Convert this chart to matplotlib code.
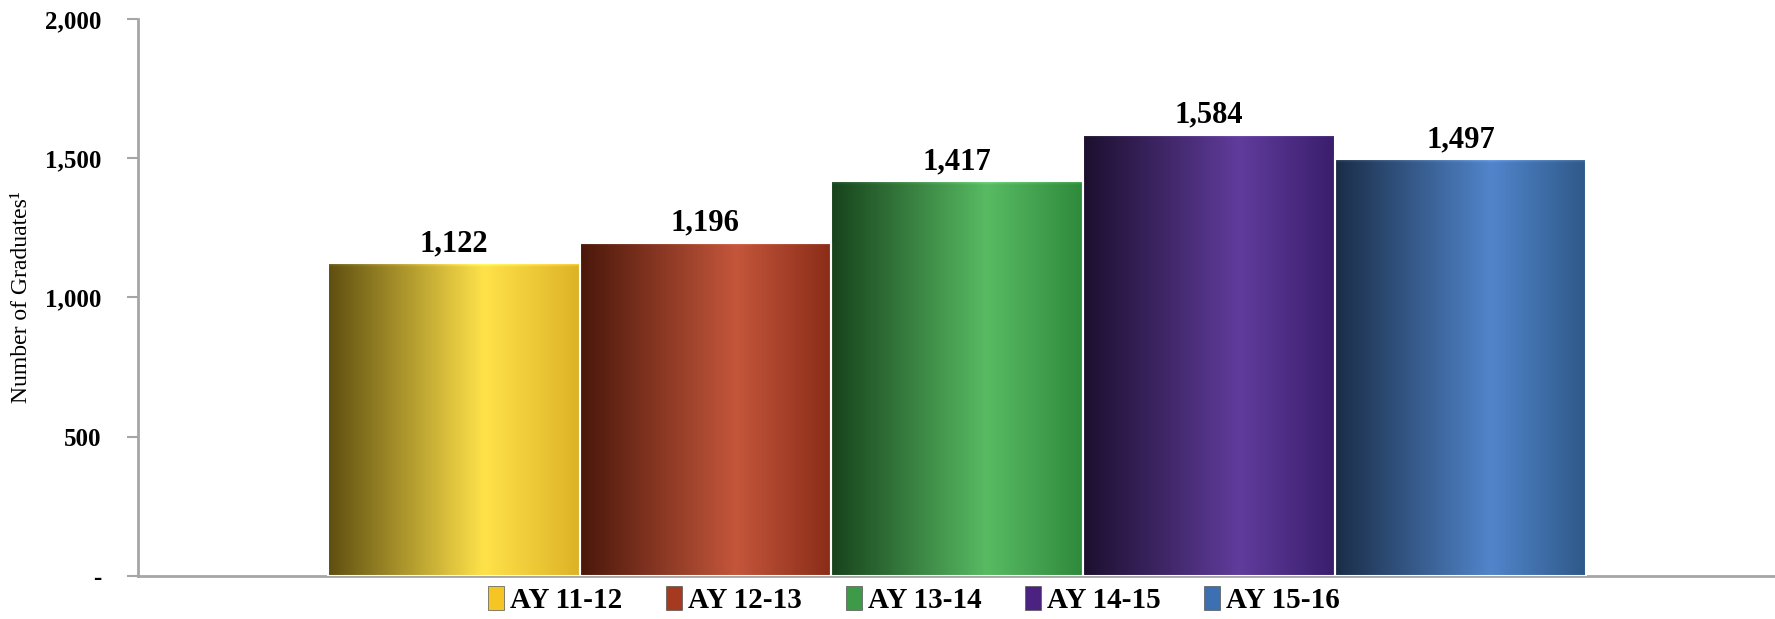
import numpy as np
import matplotlib
matplotlib.use("Agg")
import matplotlib.pyplot as plt
from matplotlib.patches import Patch
from matplotlib.colors import LinearSegmentedColormap
from matplotlib.ticker import FuncFormatter

categories = ["AY 11-12", "AY 12-13", "AY 13-14", "AY 14-15", "AY 15-16"]
values = [1122, 1196, 1417, 1584, 1497]
legend_colors = ["#f5c524", "#a63a20", "#3d9a48", "#4b2282", "#3d70b3"]
# gradient stops (left, mid-light, right) per bar
grad_stops = [
    ("#5e4e10", "#ffe24a", "#ddb226"),
    ("#4a170a", "#c4563b", "#8a2c18"),
    ("#17421c", "#58bb63", "#2f8a3c"),
    ("#1c0f2e", "#603c9c", "#3a1e6c"),
    ("#1a2d47", "#5185cb", "#2e5888"),
]
yticks = [0, 500, 1000, 1500, 2000]

plt.rcParams["font.family"] = ["Liberation Serif", "DejaVu Serif"]

fig = plt.figure(figsize=(17.75, 6.19), dpi=100)
ax = fig.add_axes([0.0777, 0.0695, 0.9223, 0.9])

x = np.arange(len(values))
bars = ax.bar(x, values, width=1.0, color="none", edgecolor="none", zorder=2)

for b, stops in zip(bars, grad_stops):
    cmap = LinearSegmentedColormap.from_list("g", [(0, stops[0]), (0.62, stops[1]), (1.0, stops[2])])
    h = b.get_height()
    rows = int(h)
    img = cmap(np.linspace(0, 1, 256))[None, :, :3]
    img = np.repeat(img, rows, axis=0)
    # subtle light top bevel
    bevel = 14
    ramp = np.linspace(0, 1, bevel)[:, None, None]
    img[-bevel:] = np.clip(img[-bevel:] * (1 + 0.12 * ramp) + 0.06 * ramp, 0, 1)
    x0, w = b.get_x(), b.get_width()
    im = ax.imshow(img, extent=[x0, x0 + w, 0, h], aspect="auto", origin="lower",
                   interpolation="bilinear", zorder=2)
    im.set_clip_path(b)
    ax.text(x0 + w / 2, h + 18, f"{int(h):,}", ha="center", va="bottom",
            fontsize=22, fontweight="bold", zorder=4)

ax.bar(x, values, width=1.0, color="none", edgecolor="white", linewidth=1.5, zorder=3)

ax.set_xlim(-1.255, 5.25)
ax.set_ylim(0, 2000)
ax.set_yticks(yticks)
ax.yaxis.set_major_formatter(FuncFormatter(lambda v, p: "-" if v == 0 else f"{int(v):,}"))
for lbl in ax.get_yticklabels():
    lbl.set_fontweight("bold")
ax.tick_params(axis="y", labelsize=18, length=8, width=1.5, color="#a6a6a6", pad=18)
ax.set_xticks([])
for s in ["top", "right"]:
    ax.spines[s].set_visible(False)
for s in ["left", "bottom"]:
    ax.spines[s].set_color("#a6a6a6")
    ax.spines[s].set_linewidth(2)
ax.set_ylabel("Number of Graduates\u00b9", fontsize=17)
ax.yaxis.set_label_coords(-0.0645, 0.5)

handles = [Patch(facecolor=c, edgecolor="#555555", linewidth=0.5) for c in legend_colors]
fig.legend(handles, categories, loc="lower center", bbox_to_anchor=(0.515, -0.035), ncol=5,
           frameon=False, handlelength=0.55, handleheight=0.9, handletextpad=0.2,
           columnspacing=1.5, prop={"weight": "bold", "size": 21})

fig.savefig("out.png", dpi=100)
